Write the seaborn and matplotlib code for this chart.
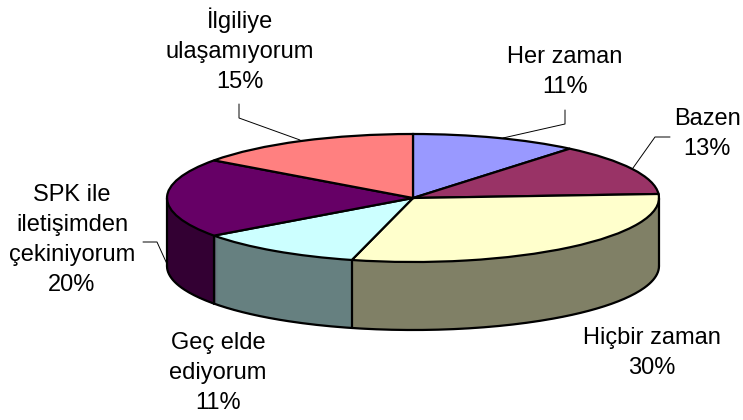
import numpy as np
import matplotlib
matplotlib.use("Agg")
import matplotlib.pyplot as plt
import seaborn as sns

labels = ["Her zaman\n11%", "Bazen\n13%", "Hiçbir zaman\n30%", "Geç elde\nediyorum\n11%",
          "SPK ile\niletişimden\nçekiniyorum\n20%", "İlgiliye\nulaşamıyorum\n15%"]
values = [11, 13, 30, 11, 20, 15]
top_colors = ["#9999FF", "#993366", "#FFFFCC", "#CCFFFF", "#660066", "#FF8080"]
wall_colors = ["#666699", "#662244", "#808066", "#668080", "#330033", "#804040"]

# pixel layout of the reference
W, H = 743, 420
CX, CY = 413, 198
RX, RY, DEPTH = 246, 64, 68
label_pos = [(565, 72), (707, 134), (652, 353), (218, 373), (72, 240), (240, 50)]
leaders = [
    [(565, 110), (565, 124), (503, 138)],
    [(670, 137), (655, 137), (633, 168)],
    [(143, 242), (157, 242), (167, 264)],
    [(239, 104), (239, 118), (300, 140)],
]

sns.set_theme(style="white")
plt.rcParams["font.family"] = ["Liberation Sans", "DejaVu Sans"]

fig = plt.figure(figsize=(W / 100, H / 100), dpi=100)
ax = fig.add_axes([0, 0, 1, 1])
depth = DEPTH / RY

# side wall: stack of the same pie, moved down one pixel at a time
for off in np.linspace(depth, 1 / RY, DEPTH):
    wedges, _ = ax.pie(values, colors=wall_colors, startangle=90, counterclock=False,
                       center=(0, -off), wedgeprops={"linewidth": 0.6})
    for w in wedges:
        w.set_edgecolor(w.get_facecolor())

# top face
ax.pie(values, colors=top_colors, startangle=90, counterclock=False,
       wedgeprops={"linewidth": 1.6, "edgecolor": "black"})

# bottom rim and vertical seams
t = np.linspace(np.pi, 2 * np.pi, 200)
ax.plot(np.cos(t), np.sin(t) - depth, color="black", lw=1.6)
ax.plot([-1, -1], [0, -depth], color="black", lw=1.6)
ax.plot([1, 1], [0, -depth], color="black", lw=1.6)
for c in np.cumsum(values):
    a = np.pi / 2 - 2 * np.pi * c / sum(values)
    if np.sin(a) < 0:
        ax.plot([np.cos(a)] * 2, [np.sin(a), np.sin(a) - depth], color="black", lw=1.6)

ax.set_aspect("auto")
ax.set_xlim(-CX / RX, (W - CX) / RX)
ax.set_ylim((CY - H) / RY, CY / RY)
ax.axis("off")

for text, (x, y) in zip(labels, label_pos):
    ax.text(x / W, 1 - y / H, text, transform=ax.transAxes, ha="center", va="center",
            fontsize=17, color="black", linespacing=1.48)

for line in leaders:
    xs = [p[0] / W for p in line]
    ys = [1 - p[1] / H for p in line]
    ax.plot(xs, ys, transform=ax.transAxes, color="black", lw=0.7)

fig.savefig("out.png", dpi=100)
plt.close(fig)
